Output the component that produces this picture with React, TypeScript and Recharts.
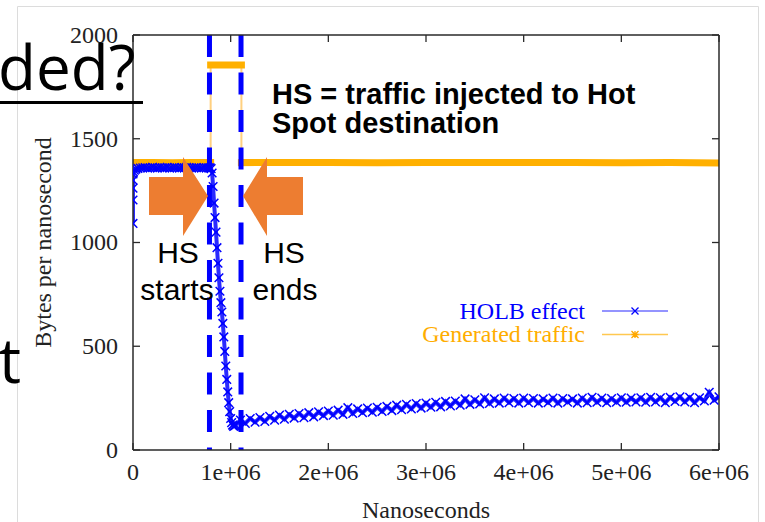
import React from 'react';
import { LineChart, Line, XAxis, YAxis, ReferenceLine, Legend, Label } from 'recharts';

// ---- axis ticks ----
const xTicks = [0, 1e6, 2e6, 3e6, 4e6, 5e6, 6e6];
const xTickLabels = ['0', '1e+06', '2e+06', '3e+06', '4e+06', '5e+06', '6e+06'];
const yTicks = [0, 500, 1000, 1500, 2000];
const yTickLabels = ['0', '500', '1000', '1500', '2000'];

// ---- hot spot start / end (ns) ----
const hsMarkers = [0.783e6, 1.106e6];

const seriesNames = ['HOLB effect', 'Generated traffic'];

// ---- Generated traffic ----
const genTimes = [0, 0.2e6, 0.4e6, 0.6e6, 0.795e6, 0.795e6, 0.95e6, 1.11e6, 1.11e6, 1.5e6, 2e6, 2.5e6, 3e6, 3.5e6, 4e6, 4.5e6, 5e6, 5.5e6, 6e6];
const genValues = [1385, 1386, 1384, 1385, 1385, 1855, 1855, 1855, 1385, 1386, 1385, 1384, 1386, 1385, 1386, 1385, 1384, 1385, 1383];

// ---- HOLB effect ----
const holbPreTimes = [0, 0, 0, 0, 0, 0.005e6, 0.015e6, 0.03e6, 0.05e6, 0.075e6,
  0.1e6, 0.125e6, 0.15e6, 0.175e6, 0.2e6, 0.225e6, 0.25e6, 0.275e6, 0.3e6, 0.325e6,
  0.35e6, 0.375e6, 0.4e6, 0.425e6, 0.45e6, 0.475e6, 0.5e6, 0.525e6, 0.55e6, 0.575e6,
  0.6e6, 0.625e6, 0.65e6, 0.675e6, 0.7e6, 0.725e6, 0.75e6, 0.775e6];
const holbPreValues = [1092, 1205, 1262, 1300, 1330, 1340, 1348, 1354, 1357, 1359,
  1360, 1361, 1359, 1360, 1362, 1360, 1359, 1361, 1360, 1360,
  1362, 1359, 1360, 1361, 1360, 1359, 1361, 1360, 1362, 1360,
  1359, 1360, 1361, 1360, 1359, 1361, 1360, 1360];

const holbDropTimes = [0.79e6, 0.8e6, 0.81e6, 0.82e6, 0.83e6, 0.84e6, 0.85e6, 0.86e6, 0.87e6, 0.88e6,
  0.89e6, 0.9e6, 0.91e6, 0.92e6, 0.93e6, 0.94e6, 0.95e6, 0.96e6, 0.97e6, 0.98e6,
  0.99e6, 1.0e6, 1.01e6, 1.02e6, 1.03e6, 1.04e6];
const holbDropValues = [1360, 1356, 1335, 1270, 1190, 1120, 1050, 975, 900, 830,
  765, 710, 665, 610, 545, 475, 405, 340, 280, 228,
  185, 152, 132, 120, 114, 116];

const holbPostTimes = [
  1.05e6, 1.1e6, 1.15e6, 1.2e6, 1.25e6, 1.3e6, 1.35e6, 1.4e6, 1.45e6, 1.5e6,
  1.55e6, 1.6e6, 1.65e6, 1.7e6, 1.75e6, 1.8e6, 1.85e6, 1.9e6, 1.95e6, 2.0e6,
  2.05e6, 2.1e6, 2.15e6, 2.2e6, 2.25e6, 2.3e6, 2.35e6, 2.4e6, 2.45e6, 2.5e6,
  2.55e6, 2.6e6, 2.65e6, 2.7e6, 2.75e6, 2.8e6, 2.85e6, 2.9e6, 2.95e6, 3.0e6,
  3.05e6, 3.1e6, 3.15e6, 3.2e6, 3.25e6, 3.3e6, 3.35e6, 3.4e6, 3.45e6, 3.5e6,
  3.55e6, 3.6e6, 3.65e6, 3.7e6, 3.75e6, 3.8e6, 3.85e6, 3.9e6, 3.95e6, 4.0e6,
  4.05e6, 4.1e6, 4.15e6, 4.2e6, 4.25e6, 4.3e6, 4.35e6, 4.4e6, 4.45e6, 4.5e6,
  4.55e6, 4.6e6, 4.65e6, 4.7e6, 4.75e6, 4.8e6, 4.85e6, 4.9e6, 4.95e6, 5.0e6,
  5.05e6, 5.1e6, 5.15e6, 5.2e6, 5.25e6, 5.3e6, 5.35e6, 5.4e6, 5.45e6, 5.5e6,
  5.55e6, 5.6e6, 5.65e6, 5.7e6, 5.75e6, 5.8e6, 5.85e6, 5.9e6, 5.95e6, 6.0e6];
const holbPostValues = [
  120, 144, 128, 152, 134, 156, 138, 162, 144, 168,
  148, 172, 154, 176, 156, 180, 160, 184, 166, 188,
  168, 192, 172, 204, 176, 198, 180, 202, 182, 206,
  186, 210, 190, 216, 194, 220, 198, 224, 202, 226,
  206, 230, 208, 234, 212, 236, 216, 246, 220, 242,
  222, 252, 224, 246, 226, 250, 228, 248, 226, 250,
  228, 248, 226, 246, 228, 250, 226, 248, 230, 246,
  226, 250, 228, 254, 230, 250, 228, 248, 230, 252,
  230, 250, 232, 252, 230, 254, 232, 252, 228, 254,
  234, 256, 232, 254, 228, 252, 236, 278, 240, 256];

// ---- tables built from the arrays ----
const holbData = [
  ...holbPreTimes.map((t, i) => ({ t, v: holbPreValues[i] })),
  ...holbDropTimes.map((t, i) => ({ t, v: holbDropValues[i] })),
  ...holbPostTimes.map((t, i) => ({ t, v: holbPostValues[i] })),
];
const genData = genTimes.map((t, i) => ({ t, v: genValues[i] }));
const genBand: { t: number; v: number | null }[] = [];
genTimes.forEach((t, i) => {
  if (i > 0 && genTimes[i - 1] === t) genBand.push({ t, v: null });
  genBand.push({ t, v: genValues[i] });
});

const SERIF = '"Liberation Serif", "Times New Roman", serif';
const SANS = '"Liberation Sans", Arial, sans-serif';
const AXIS = '#2a2a2a';

const BottomTick = (p: any) => {
  const i = xTicks.indexOf(p.payload.value);
  return (
    <g>
      <line x1={p.x} x2={p.x} y1={p.y} y2={p.y - 7} stroke={AXIS} strokeWidth={1.3} />
      <text x={p.x} y={p.y + 30} textAnchor="middle" fontFamily={SERIF} fontSize={24} fill="#222">
        {xTickLabels[i]}
      </text>
    </g>
  );
};
const TopTick = (p: any) => (
  <line x1={p.x} x2={p.x} y1={p.y} y2={p.y + 7} stroke={AXIS} strokeWidth={1.3} />
);
const LeftTick = (p: any) => {
  const i = yTicks.indexOf(p.payload.value);
  return (
    <g>
      <line x1={p.x} x2={p.x + 7} y1={p.y} y2={p.y} stroke={AXIS} strokeWidth={1.3} />
      <text x={p.x - 15} y={p.y} dy="0.33em" textAnchor="end" fontFamily={SERIF} fontSize={24} fill="#222">
        {yTickLabels[i]}
      </text>
    </g>
  );
};
const RightTick = (p: any) => (
  <line x1={p.x} x2={p.x - 7} y1={p.y} y2={p.y} stroke={AXIS} strokeWidth={1.3} />
);

const YTitle = (p: any) => {
  const vb = p.viewBox;
  const cx = vb.x - 29;
  const cy = vb.y + vb.height / 2;
  return (
    <text x={cx} y={cy} transform={`rotate(-90 ${cx} ${cy})`} textAnchor="middle" dominantBaseline="central"
      fontFamily={SERIF} fontSize={24} fill="#222">
      Bytes per nanosecond
    </text>
  );
};
const XTitle = (p: any) => {
  const vb = p.viewBox;
  return (
    <text x={vb.x + vb.width / 2} y={vb.y + 68} textAnchor="middle" fontFamily={SERIF} fontSize={24} fill="#222">
      Nanoseconds
    </text>
  );
};

const XMark = (p: any) => {
  const { cx, cy } = p;
  if (cx == null || cy == null) return <g key={`x${p.index}`} />;
  const s = 4.3;
  return (
    <path key={`x${p.index}`} d={`M${cx - s},${cy - s}L${cx + s},${cy + s}M${cx - s},${cy + s}L${cx + s},${cy - s}`}
      stroke="#0000ff" strokeWidth={1.5} fill="none" />
  );
};

const legendStyle: Record<string, { text: string; line: string; mark: string; star: boolean }> = {
  'HOLB effect': { text: '#0000ff', line: '#7070ff', mark: '#0000ff', star: false },
  'Generated traffic': { text: '#ffad00', line: '#ffc850', mark: '#ffa800', star: true },
};

const renderLegend = (props: any) => {
  const payload = props.payload || [];
  const rows = seriesNames.filter((n) => payload.some((p: any) => p.value === n));
  return (
    <svg width={290} height={52} style={{ display: 'block' }}>
      {rows.map((n, i) => {
        const st = legendStyle[n];
        const cy = 15 + i * 23.5;
        const mx = 235;
        const s = 3.5;
        return (
          <g key={n}>
            <text x={185} y={cy} dy="0.33em" textAnchor="end" fontFamily={SERIF} fontSize={24} fill={st.text}>{n}</text>
            <line x1={202} x2={268} y1={cy} y2={cy} stroke={st.line} strokeWidth={1.5} />
            <path d={`M${mx - s},${cy - s}L${mx + s},${cy + s}M${mx - s},${cy + s}L${mx + s},${cy - s}` +
              (st.star ? `M${mx - s},${cy}L${mx + s},${cy}M${mx},${cy - s}L${mx},${cy + s}` : '')}
              stroke={st.mark} strokeWidth={1.3} fill="none" />
          </g>
        );
      })}
    </svg>
  );
};

export default function App() {
  return (
    <div style={{ position: 'absolute', left: 0, top: 0, width: 765, height: 522, background: '#fff', overflow: 'hidden' }}>
      <LineChart width={765} height={522} margin={{ top: 34, right: 45, bottom: 30, left: 72 }}>
        <XAxis dataKey="t" type="number" domain={[0, 6e6]} ticks={xTicks} tick={BottomTick} tickSize={0} tickMargin={0}
          tickLine={false} axisLine={{ stroke: AXIS, strokeWidth: 1.5 }} height={42} interval={0} allowDataOverflow>
          <Label content={XTitle} />
        </XAxis>
        <XAxis xAxisId="top" orientation="top" dataKey="t" type="number" domain={[0, 6e6]} ticks={xTicks} tick={TopTick}
          tickSize={0} tickMargin={0} tickLine={false} axisLine={{ stroke: AXIS, strokeWidth: 1.5 }} height={1} interval={0} allowDataOverflow />
        <YAxis type="number" domain={[0, 2000]} ticks={yTicks} tick={LeftTick} tickSize={0} tickMargin={0} tickLine={false}
          axisLine={{ stroke: AXIS, strokeWidth: 1.5 }} width={61} interval={0} allowDataOverflow>
          <Label content={YTitle} />
        </YAxis>
        <YAxis yAxisId="right" orientation="right" type="number" domain={[0, 2000]} ticks={yTicks} tick={RightTick}
          tickSize={0} tickMargin={0} tickLine={false} axisLine={{ stroke: AXIS, strokeWidth: 1.5 }} width={1} interval={0} allowDataOverflow />

        <Line data={holbData} dataKey="v" type="linear" name="HOLB effect" stroke="#2a2aff" strokeWidth={4}
          dot={XMark} activeDot={false} isAnimationActive={false} />
        <Line data={genData} dataKey="v" type="linear" stroke="#ffd080" strokeWidth={2} dot={false} activeDot={false}
          legendType="none" isAnimationActive={false} />
        <Line data={genBand} dataKey="v" type="linear" name="Generated traffic" stroke="#ffb000" strokeWidth={7}
          strokeLinecap="square" dot={false} activeDot={false} connectNulls={false} isAnimationActive={false} />

        {hsMarkers.map((x) => (
          <ReferenceLine key={x} x={x} stroke="#0000ff" strokeWidth={5} strokeDasharray="22 15.5" strokeDashoffset={19.5} />
        ))}

        <Legend layout="vertical" align="center" verticalAlign="middle" content={renderLegend}
          wrapperStyle={{ position: 'absolute', left: 400, top: 296, width: 290, height: 52 }} />
      </LineChart>

      <svg width={765} height={522} style={{ position: 'absolute', left: 0, top: 0, pointerEvents: 'none' }}>
        <path d="M17.5,522 L17.5,6.5 L758.5,6.5 L758.5,522" fill="none" stroke="#dcdcdc" strokeWidth={1} />
        <text x={-2} y={90} fontFamily='"Open Sans", "Noto Sans", sans-serif' fontSize={62} fill="#000">ded?</text>
        <rect x={0} y={101} width={143} height={3} fill="#000" />
        <text x={-1} y={383} fontFamily='"Open Sans", "Noto Sans", sans-serif' fontSize={62} fill="#000">t</text>

        <polygon points="149,177 183,177 183,157 208,196 183,236 183,215 149,215" fill="#ed7d31" />
        <polygon points="303,177 267,177 267,157 243,196 267,236 267,215 303,215" fill="#ed7d31" />

        <g fontFamily={SANS} fontSize={30} fill="#000" textAnchor="middle">
          <text x={178} y={263}>HS</text>
          <text x={177} y={300}>starts</text>
          <text x={284} y={263}>HS</text>
          <text x={285} y={300}>ends</text>
        </g>
        <g fontFamily={SANS} fontSize={29} fontWeight="bold" fill="#000">
          <text x={272} y={104}>HS = traffic injected to Hot</text>
          <text x={272} y={133}>Spot destination</text>
        </g>
      </svg>
    </div>
  );
}
